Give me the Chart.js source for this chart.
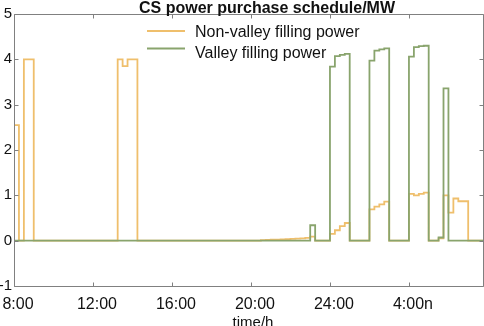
<!DOCTYPE html>
<html>
<head>
<meta charset="utf-8">
<script src="https://cdn.jsdelivr.net/npm/chart.js@4.4.1/dist/chart.umd.min.js"></script>
<style>
  html, body { margin: 0; padding: 0; background: #fff; }
  #wrap { width: 484px; height: 326px; position: relative; }
</style>
</head>
<body>
<div id="wrap"><canvas id="powerChart" width="484" height="326"></canvas></div>
<script>
// CS power purchase schedule, one value per quarter hour starting 8:00
const titleText = 'CS power purchase schedule/MW';
const xAxisTitle = 'time/h';
const seriesNames = ['Non-valley filling power', 'Valley filling power'];

const nonValley = [
    2.55, 0, 4, 4, 0, 0, 0, 0, 0, 0, 0, 0, 0, 0, 0, 0,
    0, 0, 0, 0, 0, 4, 3.85, 4, 4, 0, 0, 0, 0, 0, 0, 0,
    0, 0, 0, 0, 0, 0, 0, 0, 0, 0, 0, 0, 0, 0, 0, 0,
    0, 0, 0.01, 0.015, 0.02, 0.02, 0.03, 0.035, 0.04, 0.045, 0.05, 0.06, 0.09, 0, 0, 0,
    0.15, 0.23, 0.32, 0.39, 0, 0, 0, 0, 0.69, 0.75, 0.8, 0.86, 0, 0, 0, 0,
    1.03, 1.0, 1.03, 1.06, 0, 0, 0.05, 1.0, 0.62, 0.93, 0.87, 0.87, 0, 0, 0, 0
];
const valley = [
    0, 0, 0, 0, 0, 0, 0, 0, 0, 0, 0, 0, 0, 0, 0, 0,
    0, 0, 0, 0, 0, 0, 0, 0, 0, 0, 0, 0, 0, 0, 0, 0,
    0, 0, 0, 0, 0, 0, 0, 0, 0, 0, 0, 0, 0, 0, 0, 0,
    0, 0, 0, 0, 0, 0, 0, 0, 0, 0, 0, 0, 0.34, 0, 0, 0,
    3.84, 4.07, 4.1, 4.12, 0, 0, 0, 0, 3.97, 4.19, 4.22, 4.24, 0, 0, 0, 0,
    4.06, 4.27, 4.29, 4.3, 0, 0, 0.07, 3.36, 0, 0, 0, 0, 0, 0, 0, 0
];

const xTickPos = [0, 16, 32, 48, 64, 80];
const xTickLabels = ['8:00', '12:00', '16:00', '20:00', '24:00', '4:00n'];
const yTicks = [-1, 0, 1, 2, 3, 4, 5];

// quarter-hour category labels
const times = [];
for (let i = 0; i < nonValley.length; i++) {
    const mins = 8 * 60 + i * 15;
    const h = Math.floor(mins / 60) % 24;
    const m = mins % 60;
    times.push(h + ':' + (m < 10 ? '0' + m : m));
}

const orange = '#efbf6c';
const green = '#89a46d';
const axisGray = '#808080';
const fontFamily = '"Liberation Sans", Arial, Helvetica, sans-serif';

// box, inward ticks, title, legend and axis title
const decor = {
    id: 'decor',
    afterDraw(chart) {
        const ctx = chart.ctx;
        const a = chart.chartArea;
        const xs = chart.scales.x;
        const ys = chart.scales.y;
        const L = a.left + 0.5, R = a.right + 0.5, T = a.top + 0.5, B = a.bottom + 0.5;
        ctx.save();
        ctx.strokeStyle = axisGray;
        ctx.lineWidth = 1;
        ctx.beginPath();
        ctx.rect(L, T, R - L, B - T);
        ctx.stroke();

        const tl = 4;
        ctx.beginPath();
        xTickPos.forEach(p => {
            const x = Math.round(xs.getPixelForValue(p)) + 0.5;
            ctx.moveTo(x, B); ctx.lineTo(x, B - tl);
            ctx.moveTo(x, T); ctx.lineTo(x, T + tl);
        });
        yTicks.forEach(v => {
            const y = Math.round(ys.getPixelForValue(v)) + 0.5;
            ctx.moveTo(L, y); ctx.lineTo(L + tl, y);
            ctx.moveTo(R, y); ctx.lineTo(R - tl, y);
        });
        ctx.stroke();

        ctx.fillStyle = '#111';
        ctx.font = 'bold 16px ' + fontFamily;
        ctx.textAlign = 'center';
        ctx.textBaseline = 'alphabetic';
        ctx.fillText(titleText, 267, 13);

        ctx.font = '15px ' + fontFamily;
        ctx.fillText(xAxisTitle, 253, 327);

        // legend
        const ds = chart.data.datasets;
        const rows = [{ y: 31, base: 37 }, { y: 48.5, base: 58 }];
        ctx.textAlign = 'left';
        ctx.font = '16px ' + fontFamily;
        ds.forEach((d, i) => {
            ctx.strokeStyle = d.borderColor;
            ctx.lineWidth = 1.8;
            ctx.beginPath();
            ctx.moveTo(147, rows[i].y);
            ctx.lineTo(185, rows[i].y);
            ctx.stroke();
            ctx.fillStyle = '#111';
            ctx.fillText(d.label, 195, rows[i].base);
        });
        ctx.restore();
    }
};

const ctx = document.getElementById('powerChart').getContext('2d');
new Chart(ctx, {
    type: 'line',
    data: {
        labels: times,
        datasets: [
            {
                label: seriesNames[0],
                data: nonValley,
                borderColor: orange,
                borderWidth: 1.8,
                stepped: 'before',
                pointRadius: 0,
                fill: false,
                order: 2
            },
            {
                label: seriesNames[1],
                data: valley,
                borderColor: green,
                borderWidth: 1.8,
                stepped: 'before',
                pointRadius: 0,
                fill: false,
                order: 1
            }
        ]
    },
    options: {
        responsive: false,
        animation: false,
        layout: { padding: { top: 14, right: 1, left: 0, bottom: 0 } },
        plugins: {
            legend: { display: false },
            tooltip: { enabled: false },
            title: { display: false }
        },
        scales: {
            x: {
                type: 'category',
                offset: false,
                grid: { display: false, drawTicks: false },
                border: { display: false },
                afterFit: s => {
                    s.height = 40;
                    s.paddingLeft = 0;
                    s.paddingRight = 0;
                },
                ticks: {
                    autoSkip: false,
                    maxRotation: 0,
                    padding: 9,
                    labelOffset: 4,
                    color: '#111',
                    font: { family: fontFamily, size: 16 },
                    callback: (v, i) => {
                        const k = xTickPos.indexOf(i);
                        return k >= 0 ? xTickLabels[k] : '';
                    }
                }
            },
            y: {
                min: -1,
                max: 5,
                grid: { display: false, drawTicks: false },
                border: { display: false },
                afterFit: s => {
                    s.width = 14;
                    s.paddingTop = 0;
                    s.paddingBottom = 0;
                },
                afterBuildTicks: s => { s.ticks = yTicks.map(v => ({ value: v })); },
                ticks: {
                    padding: 2,
                    color: '#111',
                    font: { family: fontFamily, size: 15 },
                    callback: v => String(v)
                }
            }
        }
    },
    plugins: [decor]
});
</script>
</body>
</html>
